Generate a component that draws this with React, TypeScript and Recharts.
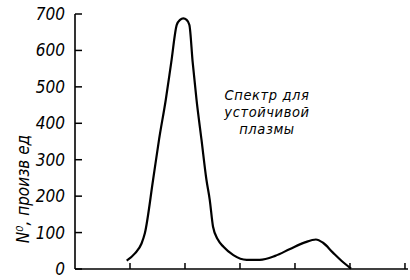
import React from 'react';
import { LineChart, Line, XAxis, YAxis, Customized } from 'recharts';

const energy = [0.94, 1.09, 1.21, 1.27, 1.42, 1.53, 1.65, 1.75, 1.85, 1.91, 1.97, 2.03, 2.08, 2.14, 2.21, 2.30, 2.39, 2.45, 2.51, 2.6, 2.7, 2.88, 3.12, 3.36, 3.64, 3.91, 4.18, 4.38, 4.51, 4.69, 4.85, 5.02];
const counts = [23, 43, 70, 98, 245, 357, 464, 567, 670, 684, 688, 684, 670, 567, 464, 355, 245, 190, 116, 80, 61, 38, 25, 25, 36, 55, 73, 81, 72, 45, 22, 1];
const yTicks = [0, 100, 200, 300, 400, 500, 600, 700];
const xTicks = [1, 2, 3, 4, 5, 6];
const yLabel = 'N⁰, произв ед';
const noteLines = ['Спектр для', 'устойчивой', 'плазмы'];

const data = energy.map((e, i) => ({ e, n: counts[i] }));

const FONT = '"DejaVu Sans Condensed", "Liberation Sans Narrow", "DejaVu Sans", sans-serif';

const YTick = (props: any) => {
  const { x, y, payload } = props;
  return (
    <g>
      <line x1={x + 10} x2={x + 17} y1={y} y2={y} stroke="#000" strokeWidth={1.5} />
      <text x={x} y={y} textAnchor="end" dominantBaseline="central" fontFamily={FONT} fontStyle="italic" fontSize={17} fill="#000">
        {payload.value}
      </text>
    </g>
  );
};

const XTick = (props: any) => {
  const { x, y } = props;
  return <line x1={x} x2={x} y1={y} y2={y - 6} stroke="#000" strokeWidth={1.5} />;
};

const Annotations = () => (
  <g fontFamily={FONT} fontStyle="italic" fill="#000">
    <text transform="translate(23,189) rotate(-90)" textAnchor="middle" dominantBaseline="central" fontSize={17}>
      {yLabel}
    </text>
    {noteLines.map((t, i) => (
      <text key={i} x={267} y={100 + i * 17} textAnchor="middle" fontSize={14.5} letterSpacing={0.6}>
        {t}
      </text>
    ))}
  </g>
);

export default function App() {
  return (
    <div style={{ position: 'absolute', left: 0, top: 0, width: 410, height: 280, background: '#fff' }}>
      <LineChart width={410} height={280} data={data} margin={{ top: 14, right: 2, bottom: 10, left: 0 }}>
        <XAxis
          dataKey="e"
          type="number"
          domain={[0, 6.055]}
          ticks={xTicks}
          tick={<XTick />}
          tickLine={false}
          tickSize={0}
          tickMargin={0}
          height={1}
          axisLine={{ stroke: '#000', strokeWidth: 1.6 }}
          allowDataOverflow
        />
        <YAxis
          type="number"
          domain={[0, 700]}
          ticks={yTicks}
          tick={<YTick />}
          tickLine={false}
          tickSize={0}
          tickMargin={10}
          width={75}
          axisLine={{ stroke: '#000', strokeWidth: 1.6 }}
          interval={0}
        />
        <Line dataKey="n" type="monotone" stroke="#000" strokeWidth={2.2} dot={false} isAnimationActive={false} />
        <Customized component={Annotations} />
      </LineChart>
    </div>
  );
}
